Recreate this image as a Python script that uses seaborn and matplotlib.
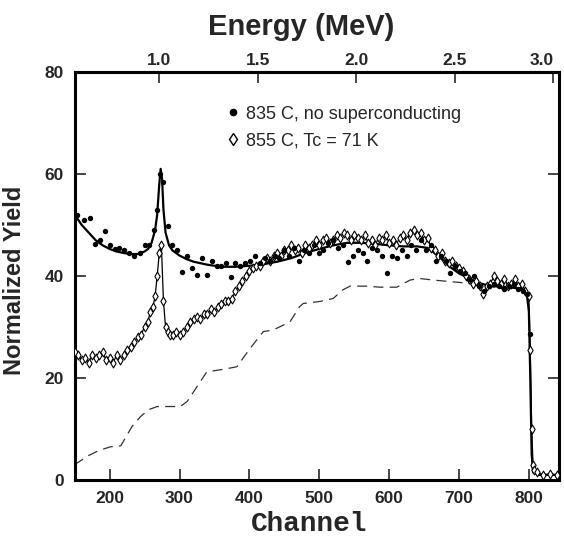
import numpy as np
import pandas as pd
import matplotlib
matplotlib.use("Agg")
import matplotlib.pyplot as plt
import seaborn as sns
from matplotlib.lines import Line2D

# ---------------- data ----------------
# 835 C sample: measured points
dot_ch = [153, 163, 172, 179, 186, 194, 200, 207, 214, 221, 228, 235, 243, 250, 257, 264, 268, 272, 276, 283,
          289, 296, 303, 310, 318, 325, 332, 339, 346, 353, 360, 366, 373, 380, 387, 394, 401, 408, 415, 422,
          429, 436, 443, 450, 457, 464, 471, 478, 485, 492, 499, 506, 513, 520, 527, 534, 541, 548, 555, 562,
          569, 576, 583, 590, 597, 604, 611, 618, 625, 632, 639, 646, 653, 660, 667, 674, 681, 687, 694, 701,
          708, 715, 722, 729, 736, 743, 750, 757, 764, 771, 778, 785, 792, 797, 801]
dot_y = [52.0, 51.0, 51.4, 46.3, 47.0, 48.9, 46.0, 45.2, 45.5, 45.0, 44.5, 44.0, 44.5, 46.0, 46.0, 49.0, 53.0, 60.0, 58.5, 49.7,
         46.0, 45.0, 40.8, 44.0, 41.5, 40.2, 43.5, 40.2, 43.0, 42.0, 42.0, 42.5, 39.8, 42.5, 42.0, 42.5, 43.0, 44.0, 42.5, 43.5,
         43.0, 44.0, 43.5, 45.0, 44.0, 45.5, 43.0, 45.0, 44.5, 46.0, 44.5, 45.0, 46.5, 47.0, 45.5, 46.0, 42.8, 44.0, 45.0, 44.5,
         43.0, 45.5, 45.0, 44.0, 40.6, 44.0, 43.5, 45.0, 44.0, 46.0, 45.0, 47.0, 45.0, 46.0, 43.0, 44.0, 43.0, 40.6, 42.0, 41.0,
         40.5, 39.5, 40.0, 38.0, 37.0, 38.0, 38.5, 38.0, 37.5, 38.0, 38.5, 37.5, 37.0, 36.5, 28.6]

# 835 C sample: simulation (solid line)
fit_ch = [150, 160, 170, 180, 190, 200, 210, 220, 230, 240, 250, 255, 260, 265, 268, 271, 273, 275, 277, 280,
          285, 290, 300, 310, 320, 340, 360, 380, 400, 420, 440, 460, 480, 500, 520, 540, 560, 580, 600, 620,
          640, 655, 670, 685, 700, 715, 730, 750, 770, 790, 797, 800, 802, 804, 806, 815, 845]
fit_y = [52.0, 50.0, 48.5, 47.0, 46.0, 45.3, 44.8, 44.5, 44.3, 44.3, 44.8, 45.3, 46.5, 49.0, 52.0, 58.0, 61.0, 59.0, 53.0, 48.5,
         46.0, 45.0, 44.0, 43.3, 42.8, 42.2, 41.8, 41.8, 42.0, 42.3, 42.8, 43.5, 44.5, 45.3, 46.0, 46.5, 46.5, 46.3, 46.0, 45.8,
         45.8, 45.5, 44.0, 42.0, 40.5, 39.5, 38.5, 38.0, 37.8, 37.5, 36.5, 33.0, 20.0, 5.0, 1.5, 1.0, 1.0]

# 855 C sample (Tc = 71 K): measured points
dia_ch = [150, 155, 160, 165, 170, 175, 180, 185, 190, 195, 200, 205, 210, 215, 220, 225, 230, 235, 240, 245,
          250, 255, 258, 262, 265, 268, 271, 274, 277, 280, 283, 286, 290, 295, 300, 305, 310, 315, 320, 325,
          330, 335, 340, 345, 350, 355, 360, 365, 370, 375, 380, 385, 390, 395, 400, 405, 410, 415, 420, 425,
          430, 435, 440, 445, 450, 455, 460, 465, 470, 475, 480, 485, 490, 495, 500, 505, 510, 515, 520, 525,
          530, 535, 540, 545, 550, 555, 560, 565, 570, 575, 580, 585, 590, 595, 600, 605, 610, 615, 620, 625,
          630, 635, 640, 645, 650, 655, 660, 665, 670, 675, 680, 685, 690, 695, 700, 705, 710, 715, 720, 725,
          730, 735, 740, 745, 750, 755, 760, 765, 770, 775, 780, 785, 790, 795, 800, 802, 804, 806, 808, 812,
          820, 830, 840]
dia_y = [25.0, 24.5, 23.5, 24.0, 23.0, 24.5, 24.0, 24.5, 25.0, 23.5, 24.0, 23.0, 24.5, 23.5, 24.5, 25.5, 26.0, 27.0, 28.0, 28.5,
         30.0, 31.0, 33.0, 34.0, 36.0, 40.0, 44.5, 46.0, 35.0, 30.0, 29.0, 28.5, 28.5, 29.0, 28.5, 29.0, 30.0, 31.0, 31.5, 32.0,
         31.5, 32.5, 32.5, 33.5, 33.0, 34.0, 34.5, 35.0, 35.0, 35.5, 37.0, 38.0, 39.0, 40.0, 41.0, 41.5, 42.0, 42.0, 43.0, 43.5,
         43.0, 44.0, 44.5, 44.0, 45.0, 45.0, 46.0, 45.0, 45.5, 44.5, 46.0, 45.5, 46.0, 47.0, 46.0, 47.0, 47.5, 46.5, 47.0, 48.0,
         47.5, 48.5, 48.0, 47.0, 48.0, 47.5, 47.0, 48.0, 46.5, 47.0, 46.0, 47.5, 47.0, 48.0, 46.5, 47.0, 46.0, 47.5, 48.0, 47.0,
         48.5, 49.0, 48.0, 48.5, 47.0, 47.5, 45.5, 45.0, 44.0, 44.5, 43.0, 42.5, 43.0, 42.0, 41.5, 41.0, 40.0, 39.5, 38.5, 39.0,
         38.0, 36.5, 38.0, 38.5, 40.0, 39.0, 38.5, 39.5, 38.0, 38.5, 39.5, 38.0, 38.5, 37.0, 36.0, 25.5, 10.0, 3.0, 2.0, 1.5,
         1.0, 1.2, 1.0]

# dashed reference curve
dash_ch = [150, 153, 170, 185, 201, 216, 232, 244, 256, 268, 285, 301, 311, 325, 339, 363, 382, 401, 420, 434,
           458, 472, 477, 501, 520, 534, 544, 568, 587, 611, 630, 644, 663, 687, 711, 725, 750, 775, 800]
dash_y = [3.0, 3.3, 4.8, 5.8, 6.5, 6.7, 10.5, 12.4, 13.8, 14.4, 14.4, 14.4, 15.4, 18.3, 21.2, 21.7, 22.2, 25.8, 29.1, 29.4,
          31.0, 34.0, 34.6, 35.0, 35.6, 37.3, 38.0, 38.0, 37.8, 37.8, 39.2, 39.5, 39.2, 38.9, 38.6, 38.2, 37.8, 37.5, 37.0]

x_ticks = [200, 300, 400, 500, 600, 700, 800]
y_ticks = [0, 20, 40, 60, 80]
e_ticks = [1.0, 1.5, 2.0, 2.5, 3.0]
legend_labels = ["835 C, no superconducting", "855 C, Tc = 71 K"]

# ---------------- plot ----------------
sns.set_style("ticks")
plt.rcParams['font.family'] = ['Liberation Sans', 'DejaVu Sans']

fig = plt.figure(figsize=(5.64, 5.41), dpi=100)
ax = fig.add_axes([0.1325, 0.1128, 0.8585, 0.7542])

dots = pd.DataFrame({"ch": dot_ch, "y": dot_y})
fit = pd.DataFrame({"ch": fit_ch, "y": fit_y})
dia = pd.DataFrame({"ch": dia_ch, "y": dia_y})
dash = pd.DataFrame({"ch": dash_ch, "y": dash_y})

sns.lineplot(data=dash, x="ch", y="y", ax=ax, color="#333333", lw=0.9,
             linestyle=(0, (8, 5)), estimator=None, sort=False)
sns.lineplot(data=dia, x="ch", y="y", ax=ax, color="black", lw=0.9, estimator=None, sort=False)
sns.lineplot(data=fit, x="ch", y="y", ax=ax, color="black", lw=1.6, estimator=None, sort=False)
sns.scatterplot(data=dia, x="ch", y="y", ax=ax, marker="d", s=20, facecolor="white",
                edgecolor="black", linewidth=0.8, zorder=3)
sns.scatterplot(data=dots, x="ch", y="y", ax=ax, marker="o", s=15, color="black",
                edgecolor="black", linewidth=0, zorder=4)

ax.set_xlim(150, 843)
ax.set_ylim(0, 80)
ax.set_xticks(x_ticks)
ax.set_yticks(y_ticks)
ax.tick_params(axis="both", direction="in", length=8, width=1.2, labelsize=12.5, pad=8,
               top=False, right=True)
for lab in ax.get_xticklabels() + ax.get_yticklabels():
    lab.set_fontweight("bold")
for sp in ax.spines.values():
    sp.set_visible(True)
    sp.set_linewidth(2.2)
    sp.set_color("black")

ax.set_xlabel("Channel", family="Liberation Mono", fontweight="bold", fontsize=20)
ax.xaxis.set_label_coords(0.484, -0.075)
ax.set_ylabel("Normalized Yield", fontweight="bold", fontsize=17)
ax.yaxis.set_label_coords(-0.1, 0.488)


def ch2e(c):
    return 1.0 + (np.asarray(c) - 271.0) / 282.0


def e2ch(e):
    return 271.0 + (np.asarray(e) - 1.0) * 282.0


sec = ax.secondary_xaxis("top", functions=(ch2e, e2ch))
sec.set_xticks(e_ticks)
sec.set_xticklabels([f"{v:.1f}" for v in e_ticks], fontweight="bold")
sec.tick_params(direction="in", length=8, width=1.2, labelsize=12.5, pad=3)
sec.spines["top"].set_linewidth(2.2)
sec.get_xticklabels()[-1].set_horizontalalignment("right")
sec.get_xticklabels()[-1].set_x(e2ch(3.0) + 13)

fig.text(301 / 564, 1 - 27 / 541, "Energy (MeV)", ha="center", va="center",
         fontweight="bold", fontsize=21)

handles = [Line2D([], [], marker="o", color="black", ls="none", markersize=4.5),
           Line2D([], [], marker="d", markerfacecolor="white", markeredgecolor="black", ls="none", markersize=6)]
ax.legend(handles, legend_labels, loc="upper left", bbox_to_anchor=(0.295, 0.935), frameon=False,
          fontsize=13, handletextpad=0.3, handlelength=0.9, labelspacing=0.55, borderaxespad=0)

fig.savefig("out.png", dpi=100)
